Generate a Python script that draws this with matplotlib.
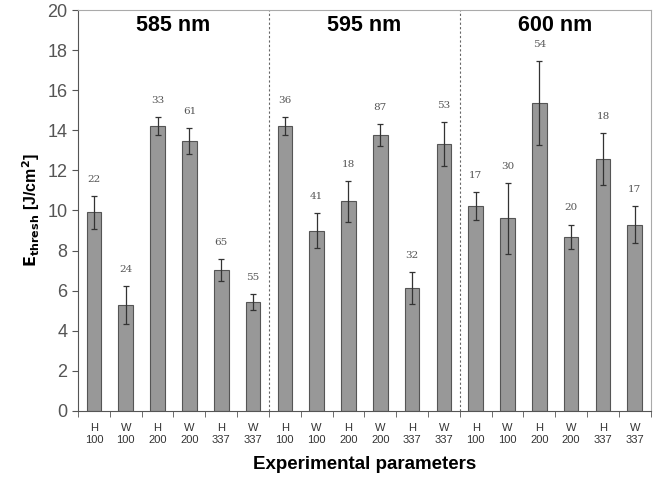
import numpy as np
import matplotlib
matplotlib.use("Agg")
import matplotlib.pyplot as plt

plt.rcParams['font.family'] = ['Liberation Sans', 'DejaVu Sans']

# data
groups = ['585 nm', '595 nm', '600 nm']
tick_labels = ['H\n100', 'W\n100', 'H\n200', 'W\n200', 'H\n337', 'W\n337'] * 3
values = [9.9, 5.3, 14.2, 13.45, 7.05, 5.45,
          14.2, 9.0, 10.45, 13.75, 6.15, 13.3,
          10.2, 9.6, 15.35, 8.7, 12.55, 9.3]
errors = [0.8, 0.95, 0.45, 0.65, 0.55, 0.4,
          0.45, 0.85, 1.0, 0.55, 0.8, 1.1,
          0.7, 1.75, 2.1, 0.6, 1.3, 0.9]
counts = [22, 24, 33, 61, 65, 55, 36, 41, 18, 87, 32, 53, 17, 30, 54, 20, 18, 17]

x = np.arange(len(values))

fig = plt.figure(figsize=(6.53, 4.8), dpi=100)
ax = fig.add_axes([0.1195, 0.144, 0.877, 0.835])

ax.bar(x, values, width=0.46, color='#989898', edgecolor='#555555', linewidth=0.8, zorder=2)
ax.errorbar(x, values, yerr=errors, fmt='none', ecolor='#333333', elinewidth=0.9,
            capsize=2.5, capthick=0.9, zorder=3)

for xi, v, e, n in zip(x, values, errors, counts):
    ax.text(xi, v + e + 0.6, str(n), ha='center', va='bottom', fontsize=7.5,
            family='DejaVu Serif', color='#555555')

# separators between wavelength groups
for b in [5.5, 11.5]:
    ax.axvline(b, color='#666666', linestyle=(0, (2, 2)), linewidth=0.8, zorder=1)

for i, g in enumerate(groups):
    ax.text(i * 6 + 2.5, 19.25, g, ha='center', va='center', fontsize=15.5, fontweight='bold')

ax.set_xlim(-0.5, len(values) - 0.5)
ax.set_ylim(0, 20)
ax.set_yticks(np.arange(0, 21, 2))
ax.set_xticks(x)
ax.set_xticklabels(tick_labels, fontsize=8, color='#333333', linespacing=1.25)
ax.tick_params(axis='x', length=0, pad=9)
ax.set_xticks(np.arange(-0.5, len(values), 1), minor=True)
ax.tick_params(axis='x', which='minor', length=4, color='#555555')
ax.tick_params(axis='y', labelsize=13, labelcolor='#555555', length=4, color='#555555')

for s in ['top', 'right']:
    ax.spines[s].set_color('#aaaaaa')
for s in ['left', 'bottom']:
    ax.spines[s].set_color('#555555')

ax.set_ylabel(r'$\mathbf{E_{thresh}}$ [J/cm$^\mathbf{2}$]', fontsize=11.5, fontweight='bold', labelpad=4)
ax.set_xlabel('Experimental parameters', fontsize=13.5, fontweight='bold', labelpad=8)

plt.savefig('out.png', dpi=100)
